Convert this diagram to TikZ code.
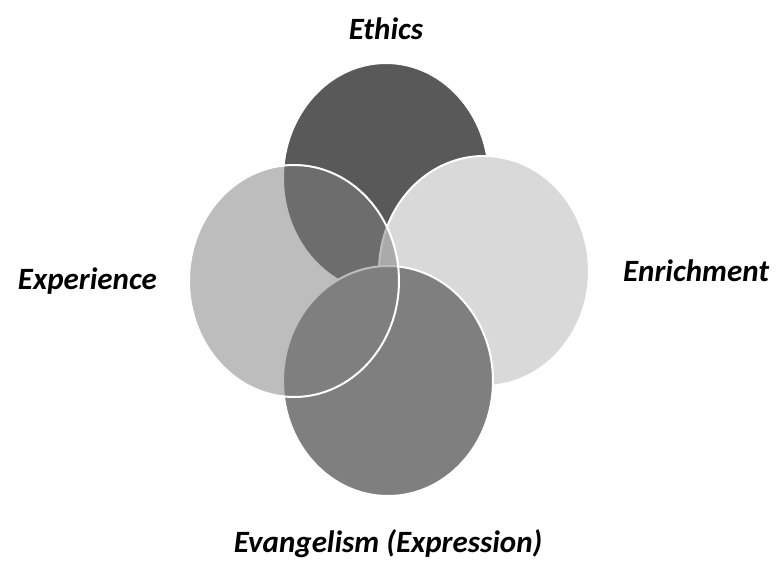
\documentclass[tikz,border=0pt]{standalone}
\usepackage{fontspec}
\usepackage{tikz}
\usetikzlibrary{shapes.geometric,positioning}
\newfontfamily\lblfont{Carlito}
\definecolor{ethicsgray}{HTML}{595959}
\definecolor{enrichgray}{HTML}{D9D9D9}
\definecolor{evangray}{HTML}{7F7F7F}
\definecolor{expergray}{HTML}{808080}

\begin{document}
\begin{tikzpicture}[x=1pt,y=-1pt,
  venn/.style={ellipse,draw=white,line width=2pt,inner sep=0pt,minimum width=210pt,minimum height=230pt},
  lbl/.style={font=\lblfont\bfseries\itshape\fontsize{31}{36}\selectfont,inner sep=0pt}]
\useasboundingbox (0,0) rectangle (780,570);
% the four sets, back to front
\node[venn,fill=ethicsgray,minimum width=206pt] (ethics) at (386,178) {};
\node[venn,fill=enrichgray] (enrich) at (484,271) {};
\node[venn,fill=evangray] (evang) at (388,381) {};
\node[venn,fill=expergray,fill opacity=0.52,minimum height=232pt] (exper) at (294,281) {};
% labels
\node[lbl,above=22pt of ethics] (ethicsL) {Ethics};
\node[lbl,left=31pt of exper] (experL) {Experience};
\node[lbl,right=33pt of enrich] (enrichL) {Enrichment};
\node[lbl,below=32pt of evang] (evangL) {Evangelism (Expression)};
\end{tikzpicture}
\end{document}
